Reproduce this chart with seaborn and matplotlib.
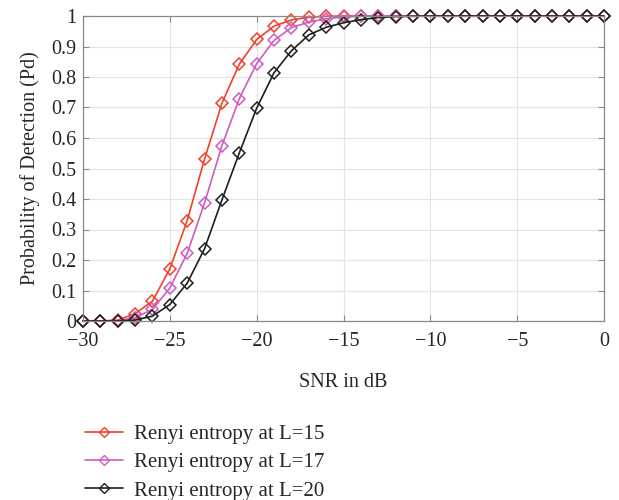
import numpy as np
import pandas as pd
import matplotlib
matplotlib.use('Agg')
import matplotlib.pyplot as plt
from matplotlib.lines import Line2D
import seaborn as sns

# SNR sweep (dB)
snr = list(range(-30, 1))

# Pd curves
pd_l15 = [0, 0, 0.003, 0.024, 0.065, 0.171, 0.329, 0.531, 0.714, 0.842, 0.923,
          0.967, 0.987, 0.996, 0.999] + [1.0] * 16
pd_l17 = [0, 0, 0.001, 0.011, 0.038, 0.108, 0.222, 0.387, 0.575, 0.729, 0.844,
          0.920, 0.962, 0.980, 0.991, 0.997, 0.999] + [1.0] * 14
pd_l20 = [0, 0, 0, 0.003, 0.016, 0.054, 0.124, 0.237, 0.397, 0.551, 0.698,
          0.814, 0.886, 0.938, 0.963, 0.978, 0.988, 0.995, 0.998, 0.999] + [1.0] * 11

labels = ['Renyi entropy at L=15', 'Renyi entropy at L=17', 'Renyi entropy at L=20']
cores = ['#f2402a', '#d05cc0', '#1e1e1e']

df = pd.DataFrame({
    'snr': snr * 3,
    'pd': pd_l15 + pd_l17 + pd_l20,
    'serie': [labels[0]] * len(snr) + [labels[1]] * len(snr) + [labels[2]] * len(snr),
})

sns.set_style('whitegrid')
plt.rcParams['font.family'] = ['Liberation Serif', 'DejaVu Serif']
plt.rcParams['axes.unicode_minus'] = True

fig = plt.figure(figsize=(6.19, 5.0), dpi=100)
ax = fig.add_axes([0.134, 0.358, 0.842, 0.610])

sns.lineplot(data=df, x='snr', y='pd', hue='serie', palette=cores, ax=ax,
             marker='D', markersize=5.8, markerfacecolor='none', markeredgewidth=1.1,
             linewidth=1.2, legend=False)
for linha, cor in zip(ax.lines, cores):
    linha.set_markeredgecolor(cor)
    linha.set_clip_on(False)

ax.set_xlim(-30, 0)
ax.set_ylim(0, 1)
ax.set_xticks(range(-30, 1, 5))
ax.set_yticks(np.arange(0, 1.01, 0.1))
ax.set_yticklabels(['0', '0.1', '0.2', '0.3', '0.4', '0.5', '0.6', '0.7', '0.8', '0.9', '1'])
ax.grid(True, color='#e3e3e3', linewidth=0.8)
for s in ax.spines.values():
    s.set_color('#8a8a8a')
    s.set_linewidth(0.9)
ax.tick_params(direction='in', length=4, color='#8a8a8a', labelsize=14.5,
               top=True, right=True, bottom=True, left=True)
ax.tick_params(axis='x', pad=8)
ax.tick_params(axis='y', pad=5)
ax.set_xlabel('SNR in dB', fontsize=14.5, labelpad=16)
ax.set_ylabel('Probability of Detection (Pd)', fontsize=14.5, labelpad=8)

handles = [Line2D([], [], color=c, marker='D', markersize=5, markerfacecolor='none',
                  markeredgecolor=c, linewidth=1.2) for c in cores]
fig.legend(handles, labels, loc='upper left', bbox_to_anchor=(0.124, 0.168),
           frameon=False, fontsize=15, handlelength=1.8, handletextpad=0.55,
           labelspacing=0.42, borderaxespad=0)

fig.savefig('out.png', dpi=100)
